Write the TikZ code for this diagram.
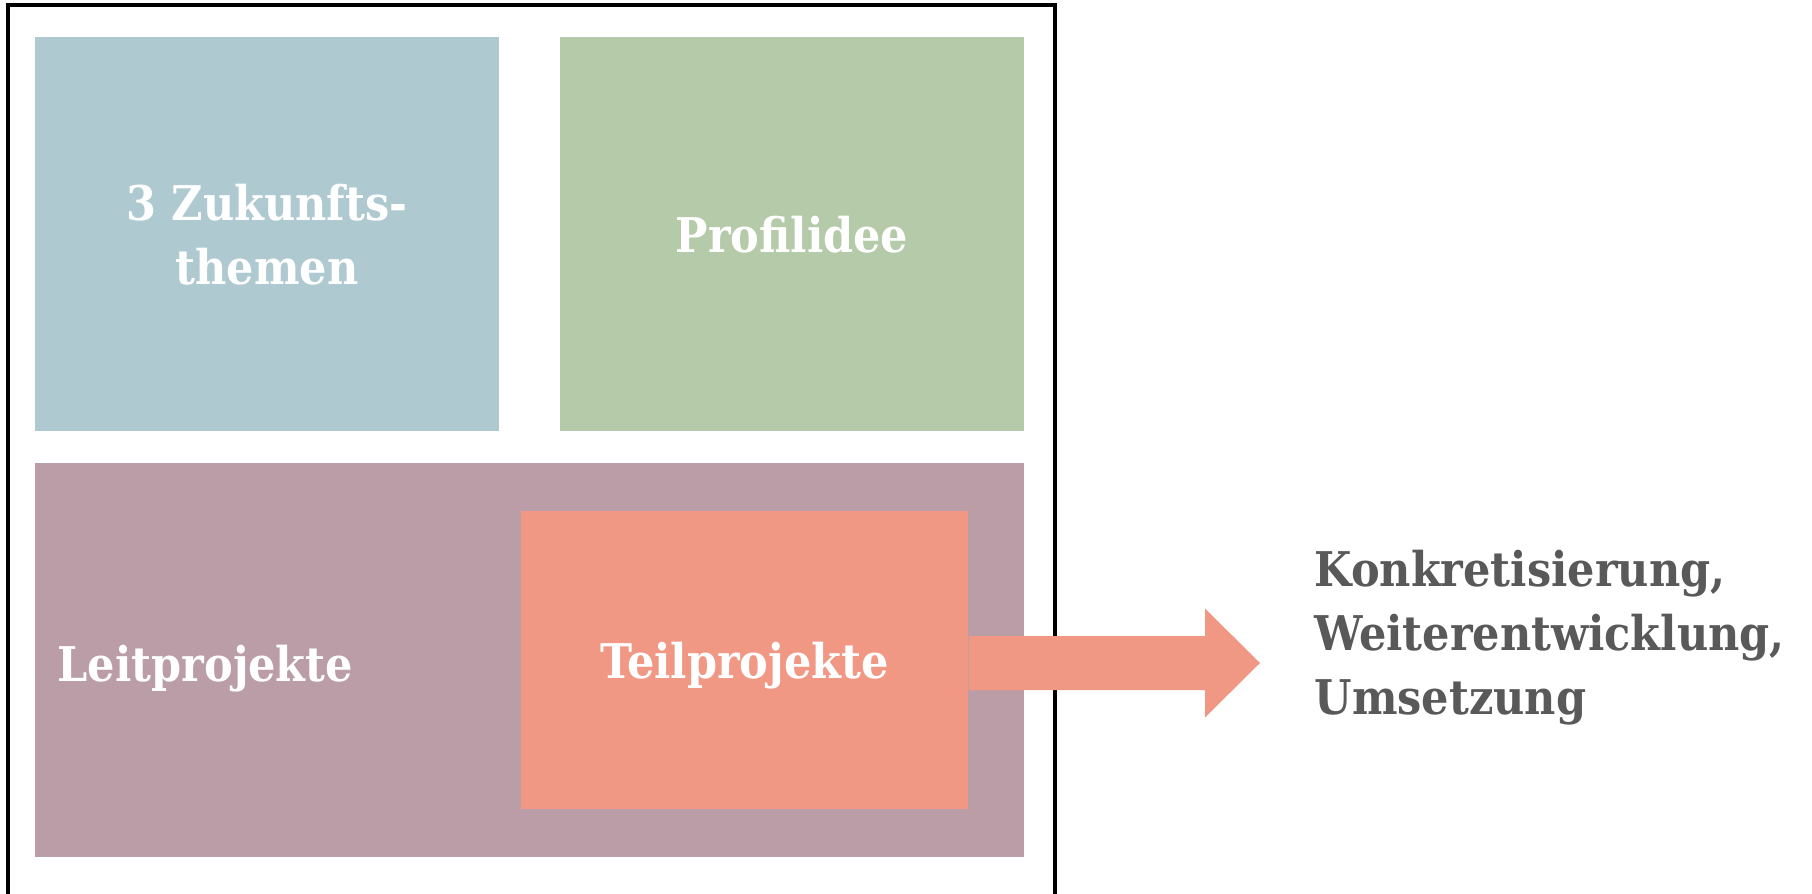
\documentclass[tikz,border=0pt]{standalone}
\usepackage{fontspec}
\setmainfont{DejaVu Serif Condensed}
\usepackage{tikz}
\usetikzlibrary{calc}
\definecolor{themeblue}{RGB}{174,202,208}
\definecolor{themegreen}{RGB}{181,202,169}
\definecolor{themeplum}{RGB}{187,157,168}
\definecolor{themesalmon}{RGB}{240,152,132}
\definecolor{textgray}{RGB}{89,89,89}

\begin{document}
\begin{tikzpicture}[
  x=0.01cm, y=-0.01cm,
  panel/.style={rectangle, inner sep=0pt, text=white, align=center, text depth=0pt,
                font=\bfseries\fontsize{13.6}{18.2}\selectfont},
  label/.style={inner sep=0pt, text=textgray, align=left,
                font=\bfseries\fontsize{13.6}{18.2}\selectfont}
]
  \useasboundingbox[fill=white] (0,0) rectangle (1812,894);
  % outer frame, open at the bottom
  \draw[line width=1.1pt] (8,894) -- (8,5) -- (1055,5) -- (1055,894);
  \node[panel, fill=themeblue, minimum width=4.64cm, minimum height=3.94cm] (themen) at (267,234) {3 Zukunfts-\\themen};
  \node[panel, fill=themegreen, minimum width=4.64cm, minimum height=3.94cm] (profil) at (792,234) {Profilidee};
  \node[panel, fill=themeplum, minimum width=9.89cm, minimum height=3.94cm] (leit) at (529.5,660) {};
  \node[panel, anchor=west] (leittext) at (57,663) {Leitprojekte};
  \node[panel, fill=themesalmon, minimum width=4.47cm, minimum height=2.98cm] (teil) at (744.5,660) {Teilprojekte};
  \node[label, anchor=west] (ziel) at (1314,638) {Konkretisierung,\\Weiterentwicklung,\\Umsetzung};
  % block arrow from Teilprojekte to the text
  \coordinate (tip) at ($(ziel.west |- 0,663)+(-54,0)$);
  \fill[themesalmon] ($(teil.east |- tip)+(0,27)$) -- ($(tip)+(-55,27)$) -- ($(tip)+(-55,54.5)$)
    -- (tip) -- ($(tip)+(-55,-54.5)$) -- ($(tip)+(-55,-27)$) -- ($(teil.east |- tip)+(0,-27)$) -- cycle;
\end{tikzpicture}
\end{document}
